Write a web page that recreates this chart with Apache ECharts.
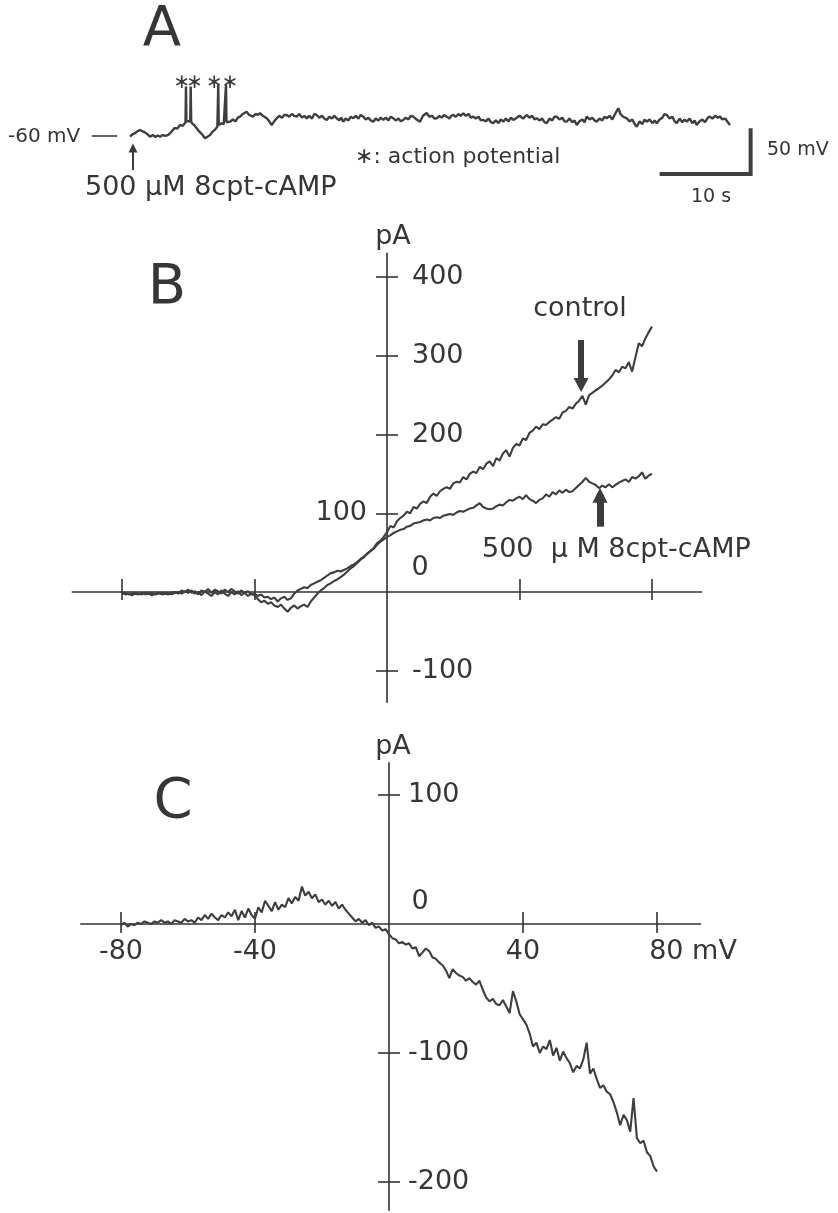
<!DOCTYPE html>
<html><head><meta charset="utf-8">
<script src="https://cdn.jsdelivr.net/npm/echarts@6/dist/echarts.min.js"></script>
<style>html,body{margin:0;padding:0;background:#fff}#c{width:838px;height:1213px}</style>
</head><body><div id="c"></div>
<script>
// ---------- Panel A: membrane potential trace (t in s, V in mV) ----------
const traceA = [[0,-60.8],[0.3,-58],[0.55,-57],[0.8,-55],[1.1,-53.5],[1.4,-55],[1.65,-56],[1.9,-58],[2.2,-60.8],[2.5,-59],[2.8,-61],[3.05,-59.5],[3.3,-60.8],[3.6,-59],[3.9,-60],[4.2,-58.9],[4.5,-56],[4.7,-58],[4.9,-51.3],[5.2,-52],[5.5,-48],[5.8,-49],[6.1,-45],[6.15,-6],[6.2,-44],[6.4,-45],[6.62,-44],[6.67,-6],[6.72,-43],[6.78,-46],[7.05,-48],[7.33,-51.6],[7.6,-55],[7.9,-58],[8.24,-62.5],[8.5,-61],[8.79,-58.9],[9.1,-55],[9.35,-53],[9.6,-50],[9.65,-49],[9.7,-4],[9.75,-48],[10.08,-46.1],[10.3,-47],[10.5,-45],[10.55,-4],[10.6,-45],[10.8,-43],[10.99,-44.4],[11.3,-42],[11.6,-44],[11.85,-40],[12.09,-38.9],[12.4,-36],[12.6,-35],[12.82,-33.5],[13.1,-37],[13.3,-35],[13.52,-38.9],[13.8,-36],[14.05,-37],[14.29,-35.2],[14.6,-38],[14.8,-37],[15.02,-40.7],[15.3,-44],[15.57,-48],[15.85,-44],[16.12,-40.7],[16.4,-38],[16.7,-40],[16.95,-37],[17.22,-37.1],[17.5,-39],[17.8,-36],[18.05,-38],[18.32,-38.9],[18.6,-36],[18.9,-40],[19.15,-38],[19.42,-40.7],[19.7,-38],[20,-41],[20.25,-36],[20.52,-37.1],[20.8,-40],[21.1,-38],[21.35,-41],[21.62,-42.5],[21.9,-39],[22.2,-41],[22.45,-38],[22.71,-40.7],[23,-43],[23.2,-40],[23.44,-44.4],[23.7,-41],[24,-43],[24.25,-39],[24.54,-40.7],[24.8,-38],[25.1,-41],[25.35,-37],[25.64,-38.9],[25.9,-42],[26.2,-40],[26.45,-43],[26.74,-44.4],[27,-41],[27.3,-43],[27.55,-40],[27.84,-42.5],[28.1,-40],[28.4,-43],[28.65,-39],[28.93,-40.7],[29.2,-43],[29.5,-41],[29.75,-44],[30.03,-42.5],[30.3,-40],[30.6,-42],[30.85,-38],[31.13,-38.9],[31.5,-42],[31.87,-44.4],[32.2,-38],[32.6,-35],[32.9,-39],[33.2,-38],[33.45,-41],[33.7,-40.7],[34,-38],[34.25,-40],[34.5,-37],[34.8,-38.9],[35.1,-41],[35.3,-38],[35.53,-37.1],[35.8,-39],[36.1,-36],[36.35,-38],[36.63,-35.2],[36.9,-38],[37.2,-36],[37.45,-40],[37.73,-38.9],[38,-41],[38.3,-39],[38.55,-43],[38.82,-42.5],[39.1,-44],[39.4,-41],[39.65,-45],[39.92,-46.1],[40.2,-43],[40.5,-46],[40.75,-42],[41.02,-44.4],[41.3,-41],[41.6,-44],[41.85,-40],[42.12,-42.5],[42.5,-40],[42.8,-38],[43.2,-41],[43.59,-37.1],[43.9,-40],[44.2,-38],[44.45,-42],[44.69,-40.7],[45,-43],[45.3,-41],[45.55,-45],[45.79,-46.1],[46.1,-41],[46.4,-43],[46.65,-39],[46.89,-38.9],[47.2,-42],[47.5,-40],[47.75,-44],[47.99,-44.4],[48.3,-41],[48.6,-45],[48.85,-43],[49.09,-48],[49.4,-44],[49.7,-42],[49.95,-45],[50.18,-38.9],[50.5,-42],[50.8,-40],[51.05,-43],[51.28,-44.4],[51.6,-41],[51.9,-43],[52.15,-39],[52.38,-40.7],[52.7,-38],[53,-42],[53.3,-36],[53.66,-29.8],[53.9,-36],[54.2,-39],[54.4,-37],[54.58,-40.7],[54.9,-44],[55.2,-42],[55.45,-47],[55.68,-49.9],[56,-44],[56.3,-47],[56.55,-42],[56.78,-44.4],[57.1,-42],[57.4,-46],[57.65,-43],[57.88,-46.1],[58.2,-42],[58.5,-40],[58.75,-36],[58.98,-37.1],[59.3,-41],[59.6,-39],[59.85,-44],[60.08,-46.1],[60.4,-41],[60.7,-45],[60.95,-42],[61.18,-44.4],[61.5,-41],[61.8,-46],[62.05,-43],[62.27,-48],[62.6,-44],[62.9,-42],[63.2,-45],[63.5,-40],[63.74,-38.9],[64,-41],[64.3,-38],[64.6,-40],[64.84,-38.9],[65.1,-42],[65.4,-41],[65.7,-45],[65.93,-48]];
const spikeMarksLeft = [[6.15,-2],[9.7,-2]];
const spikeMarksRight = [[6.67,-2],[10.55,-2]];
const baselineA = [[-4.2,-60],[-1.4,-60]];
const scaleBarA = [[58.2,-101.5],[68.2,-101.5],[68.2,-51.5]];
const drugArrowA = [[0.33,-97],[0.33,-73]];

// ---------- Panel B: I-V curves (mV, pA) ----------
const controlB = [[-80,-1],[-79,-3],[-78,-2],[-77,-4],[-76,-2],[-75,-3],[-74,-1],[-73,-3],[-72,-2],[-71,-4],[-70,-2],[-69,-1],[-68,-3],[-67,-2],[-66,-1],[-65,-3],[-64,-1],[-63,0],[-62,-2],[-61,1],[-60,-1],[-59,2],[-58,-2],[-57,0],[-56,-4],[-55,1],[-54,-2],[-53,-5],[-52,0],[-51,-3],[-50,2],[-49,-2],[-48,-5],[-47,0],[-46,-3],[-45,1],[-44,-4],[-43,-1],[-42,-5],[-41,-2],[-40,-4],[-39,-9],[-38,-13],[-37,-11],[-36,-15],[-35,-13],[-34,-17],[-33,-19],[-32,-16],[-31,-21],[-30,-25],[-29,-20],[-28,-17],[-27,-21],[-26,-18],[-25,-16],[-24,-19],[-23,-12],[-22,-7],[-21,-2],[-20,2],[-19,5],[-18,9],[-17,11],[-16,14],[-15,16],[-14,19],[-13,22],[-12,26],[-11,30],[-10,33],[-9,37],[-8,41],[-7,44],[-6,49],[-5,52],[-4,56],[-3,62],[-2,65],[-1,70],[0,76],[1,84],[2,82],[3,90],[4,94],[5,97],[6,102],[7,100],[8,108],[9,106],[10,112],[11,115],[12,113],[13,121],[14,125],[15,122],[16,128],[17,131],[18,133],[19,131],[20,138],[21,140],[22,139],[23,146],[24,143],[25,150],[26,153],[27,151],[28,159],[29,156],[30,163],[31,166],[32,160],[33,170],[34,167],[35,176],[36,180],[37,172],[38,183],[39,188],[40,186],[41,195],[42,193],[43,202],[44,205],[45,210],[46,207],[47,213],[48,212],[49,216],[50,219],[51,222],[52,220],[53,228],[54,230],[55,235],[56,233],[57,239],[58,243],[59,249],[60,238],[61,250],[62,253],[63,256],[64,259],[65,262],[66,266],[67,270],[68,275],[69,282],[70,279],[71,286],[72,284],[73,292],[74,280],[75,298],[76,316],[77,312],[78,322],[79,330],[80,337]];
const campB = [[-80,-2],[-79,-1],[-78,-3],[-77,-2],[-76,-1],[-75,-2],[-74,-3],[-73,-1],[-72,-2],[-71,-1],[-70,-3],[-69,-2],[-68,-1],[-67,-2],[-66,-3],[-65,-1],[-64,0],[-63,-2],[-62,2],[-61,0],[-60,3],[-59,-1],[-58,1],[-57,-3],[-56,2],[-55,0],[-54,4],[-53,-1],[-52,3],[-51,1],[-50,-2],[-49,3],[-48,0],[-47,4],[-46,1],[-45,-2],[-44,2],[-43,-1],[-42,1],[-41,-3],[-40,-2],[-39,-5],[-38,-3],[-37,-7],[-36,-6],[-35,-9],[-34,-7],[-33,-12],[-32,-8],[-31,-6],[-30,-10],[-29,-8],[-28,-2],[-27,2],[-26,4],[-25,6],[-24,5],[-23,9],[-22,11],[-21,13],[-20,15],[-19,18],[-18,21],[-17,24],[-16,25],[-15,27],[-14,26],[-13,28],[-12,30],[-11,33],[-10,35],[-9,38],[-8,42],[-7,45],[-6,48],[-5,52],[-4,55],[-3,60],[-2,64],[-1,67],[0,70],[1,72],[2,75],[3,77],[4,79],[5,80],[6,83],[7,84],[8,87],[9,88],[10,89],[11,91],[12,92],[13,91],[14,94],[15,95],[16,94],[17,97],[18,98],[19,99],[20,98],[21,101],[22,103],[23,102],[24,104],[25,106],[26,107],[27,110],[28,113],[29,108],[30,106],[31,105],[32,106],[33,109],[34,111],[35,110],[36,114],[37,117],[38,116],[39,119],[40,121],[41,118],[42,123],[43,118],[44,116],[45,113],[46,117],[47,119],[48,124],[49,121],[50,127],[51,124],[52,129],[53,126],[54,130],[55,127],[56,128],[57,132],[58,136],[59,140],[60,145],[61,140],[62,138],[63,136],[64,132],[65,135],[66,133],[67,137],[68,133],[69,136],[70,139],[71,141],[72,143],[73,140],[74,146],[75,144],[76,147],[77,152],[78,144],[79,148],[80,150]];
const controlArrowB = [[58.6,320],[58.6,263]];
const campArrowB = [[64.3,83],[64.3,123]];

// ---------- Panel C: difference current (mV, pA) ----------
const diffC = [[-80,-1],[-79,1],[-78,-2],[-77,0],[-76,-1],[-75,1],[-74,0],[-73,2],[-72,1],[-71,0],[-70,2],[-69,1],[-68,3],[-67,1],[-66,2],[-65,0],[-64,3],[-63,2],[-62,1],[-61,4],[-60,2],[-59,3],[-58,1],[-57,5],[-56,3],[-55,7],[-54,4],[-53,8],[-52,5],[-51,3],[-50,7],[-49,5],[-48,9],[-47,6],[-46,11],[-45,3],[-44,10],[-43,5],[-42,12],[-41,7],[-40,4],[-39,13],[-38,9],[-37,18],[-36,14],[-35,10],[-34,17],[-33,11],[-32,15],[-31,13],[-30,20],[-29,16],[-28,21],[-27,18],[-26,29],[-25,22],[-24,25],[-23,20],[-22,23],[-21,17],[-20,19],[-19,15],[-18,18],[-17,14],[-16,17],[-15,12],[-14,15],[-13,11],[-12,8],[-11,5],[-10,2],[-9,4],[-8,1],[-7,3],[-6,-1],[-5,1],[-4,-3],[-3,-2],[-2,-5],[-1,-4],[0,-8],[1,-11],[2,-12],[3,-15],[4,-14],[5,-16],[6,-15],[7,-19],[8,-18],[9,-25],[10,-22],[11,-19],[12,-21],[13,-26],[14,-27],[15,-30],[16,-32],[17,-36],[18,-42],[19,-35],[20,-38],[21,-40],[22,-41],[23,-44],[24,-42],[25,-45],[26,-47],[27,-44],[28,-51],[29,-57],[30,-60],[31,-58],[32,-62],[33,-63],[34,-59],[35,-64],[36,-69],[37,-52],[38,-60],[39,-70],[40,-74],[41,-78],[42,-85],[43,-95],[44,-92],[45,-100],[46,-95],[47,-97],[48,-90],[49,-102],[50,-96],[51,-106],[52,-99],[53,-104],[54,-108],[55,-115],[56,-110],[57,-112],[58,-105],[59,-92],[60,-116],[61,-112],[62,-120],[63,-127],[64,-125],[65,-130],[66,-132],[67,-138],[68,-146],[69,-156],[70,-148],[71,-152],[72,-161],[73,-135],[74,-166],[75,-170],[76,-168],[77,-177],[78,-180],[79,-188],[80,-192]];

// ---------- ticks / labels ----------
const xTicks = [-80,-40,40,80];
const bYTicks = [-100,100,200,300,400];
const bYLabelsRight = [-100,200,300,400];
const bYLabelsLeft = [100];
const cYTicks = [-200,-100,100];
const cXLabels = [-80,-40,40,80];
const zeroLabel = [[0,0]];

const FONT = 'DejaVu Sans';
const INK = '#363636';
const LINE = '#3e3e3e';
const tickStyle = {color:'#333', width:1.6};
const lbl = {fontFamily:FONT, fontSize:27, color:INK};

// grid geometry and axis ranges
const G = {
  A:{left:84.5, top:71.8, width:682.5, height:119.2, x:[-5,70], y:[-120,10]},
  B:{left:72.3, top:253.4, width:629.4, height:448.9, x:[-95,95], y:[-140,430]},
  C:{left:80.8, top:762.75, width:619.75, height:447.6, x:[-92,93], y:[-222,125]}
};
// distance of the zero line from each grid edge (axes drawn through the origin)
function zeroOff(g){
  const fx = (0 - g.x[0])/(g.x[1]-g.x[0]);
  const fy = (g.y[1] - 0)/(g.y[1]-g.y[0]);
  return {left:-fx*g.width, right:-(1-fx)*g.width, top:-fy*g.height, bottom:-(1-fy)*g.height};
}
const oB = zeroOff(G.B), oC = zeroOff(G.C);

function ax(grid, rng, extra){
  return Object.assign({type:'value', gridIndex:grid, min:rng[0], max:rng[1],
    splitLine:{show:false}, axisLabel:{show:false}, axisTick:{show:false},
    axisLine:{show:false, onZero:false}}, extra);
}
const solidAxis = {show:true, onZero:false, lineStyle:{color:'#333', width:1.6}};

const trace = (name, data, xi, yi, extra) => Object.assign({
  name:name, type:'line', xAxisIndex:xi, yAxisIndex:yi, data:data, showSymbol:false,
  symbol:'none', silent:true, animation:false,
  lineStyle:{color:LINE, width:2.1}, z:5}, extra||{});

function arrow(pts, w, head){
  return {silent:true, animation:false, symbol:['none','triangle'], symbolSize:head,
    lineStyle:{type:'solid', color:'#3c3c3c', width:w, opacity:1}, label:{show:false},
    emphasis:{disabled:true},
    data:[[{coord:pts[0]},{coord:pts[1]}]]};
}
function textMark(data, xi, yi, text, offset, style){
  return {type:'scatter', xAxisIndex:xi, yAxisIndex:yi, data:data, symbolSize:0, silent:true, animation:false,
    itemStyle:{opacity:1}, label:Object.assign({show:true, position:'inside', offset:offset, formatter:text}, style)};
}

const chart = echarts.init(document.getElementById('c'), null, {renderer:'canvas'});
const gridOf = g => ({left:g.left, top:g.top, width:g.width, height:g.height, containLabel:false});
const option = {
  backgroundColor:'#fff',
  animation:false,
  grid:[gridOf(G.A), gridOf(G.B), gridOf(G.C)],
  xAxis:[
    {type:'value', gridIndex:0, min:G.A.x[0], max:G.A.x[1], show:false},
    ax(1, G.B.x, {position:'bottom', offset:oB.bottom, axisLine:solidAxis,
      axisTick:{show:true, customValues:xTicks, length:8, lineStyle:tickStyle}}),
    ax(1, G.B.x, {position:'bottom', offset:oB.bottom,
      axisTick:{show:true, inside:true, customValues:xTicks, length:13, lineStyle:tickStyle}}),
    ax(2, G.C.x, {position:'bottom', offset:oC.bottom, axisLine:solidAxis,
      axisTick:{show:true, customValues:xTicks, length:9, lineStyle:tickStyle},
      axisLabel:Object.assign({show:true, customValues:cXLabels, margin:14,
        formatter:v => v===80 ? '{a|80 mV}' : String(v),
        rich:{a:Object.assign({padding:[0,0,0,72]}, lbl)}}, lbl)}),
    ax(2, G.C.x, {position:'bottom', offset:oC.bottom,
      axisTick:{show:true, inside:true, customValues:xTicks, length:12, lineStyle:tickStyle}})
  ],
  yAxis:[
    {type:'value', gridIndex:0, min:G.A.y[0], max:G.A.y[1], show:false},
    ax(1, G.B.y, {position:'left', offset:oB.left, axisLine:solidAxis,
      name:'pA', nameLocation:'end', nameGap:3,
      nameTextStyle:{fontFamily:FONT, fontSize:27, color:INK, padding:[0,0,0,12]},
      axisTick:{show:true, customValues:bYTicks, length:11, lineStyle:tickStyle},
      axisLabel:Object.assign({show:true, customValues:bYLabelsLeft, margin:20}, lbl)}),
    ax(1, G.B.y, {position:'right', offset:oB.right,
      axisTick:{show:true, customValues:bYTicks, length:11, lineStyle:tickStyle},
      axisLabel:Object.assign({show:true, customValues:bYLabelsRight, margin:25}, lbl)}),
    ax(2, G.C.y, {position:'left', offset:oC.left, axisLine:solidAxis,
      name:'pA', nameLocation:'end', nameGap:2,
      nameTextStyle:{fontFamily:FONT, fontSize:27, color:INK, padding:[0,0,0,8]},
      axisTick:{show:true, customValues:cYTicks, length:11, lineStyle:tickStyle}}),
    ax(2, G.C.y, {position:'right', offset:oC.right,
      axisTick:{show:true, customValues:cYTicks, length:11, lineStyle:tickStyle},
      axisLabel:Object.assign({show:true, customValues:cYTicks, margin:19}, lbl)})
  ],
  series:[
    trace('traceA', traceA, 0, 0, {lineStyle:{color:LINE, width:2.4}, markLine:arrow(drugArrowA, 2, [9,9])}),
    trace('baselineA', baselineA, 0, 0, {lineStyle:{color:'#333', width:1.6}}),
    trace('scaleBarA', scaleBarA, 0, 0, {lineStyle:{color:'#404040', width:4, cap:'butt', join:'miter'}}),
    textMark(spikeMarksLeft, 0, 0, '∗', [-4,0], {fontFamily:FONT, fontSize:20, color:INK}),
    textMark(spikeMarksRight, 0, 0, '∗', [4,0], {fontFamily:FONT, fontSize:20, color:INK}),
    trace('control', controlB, 1, 1, {markLine:arrow(controlArrowB, 6, [15,14])}),
    trace('8cpt-cAMP', campB, 1, 1, {markLine:arrow(campArrowB, 7, [15,15])}),
    textMark(zeroLabel, 1, 1, '0', [33,-24], lbl),
    trace('difference', diffC, 3, 3),
    textMark(zeroLabel, 3, 3, '0', [31,-22], lbl)
  ],
  graphic:[
    {type:'text', x:162, y:30, style:{text:'A', font:'56px "DejaVu Sans"', fill:INK, align:'center', verticalAlign:'middle'}},
    {type:'text', x:167, y:288, style:{text:'B', font:'56px "DejaVu Sans"', fill:INK, align:'center', verticalAlign:'middle'}},
    {type:'text', x:173, y:802, style:{text:'C', font:'56px "DejaVu Sans"', fill:INK, align:'center', verticalAlign:'middle'}},
    {type:'text', x:8, y:137, style:{text:'-60 mV', font:'20px "DejaVu Sans"', fill:INK, align:'left', verticalAlign:'middle'}},
    {type:'text', x:355, y:157, style:{text:'∗: action potential', font:'22px "DejaVu Sans"', fill:INK, align:'left', verticalAlign:'middle'}},
    {type:'text', x:85, y:188, style:{text:'500 μM 8cpt-cAMP', font:'27px "DejaVu Sans"', fill:INK, align:'left', verticalAlign:'middle'}},
    {type:'text', x:767, y:150, style:{text:'50 mV', font:'19px "DejaVu Sans"', fill:INK, align:'left', verticalAlign:'middle'}},
    {type:'text', x:711, y:197, style:{text:'10 s', font:'19px "DejaVu Sans"', fill:INK, align:'center', verticalAlign:'middle'}},
    {type:'text', x:580, y:309, style:{text:'control', font:'27px "DejaVu Sans"', fill:INK, align:'center', verticalAlign:'middle'}},
    {type:'text', x:482, y:550, style:{text:'500  μ M 8cpt-cAMP', font:'27px "DejaVu Sans"', fill:INK, align:'left', verticalAlign:'middle'}}
  ]
};
chart.setOption(option);
</script></body></html>
